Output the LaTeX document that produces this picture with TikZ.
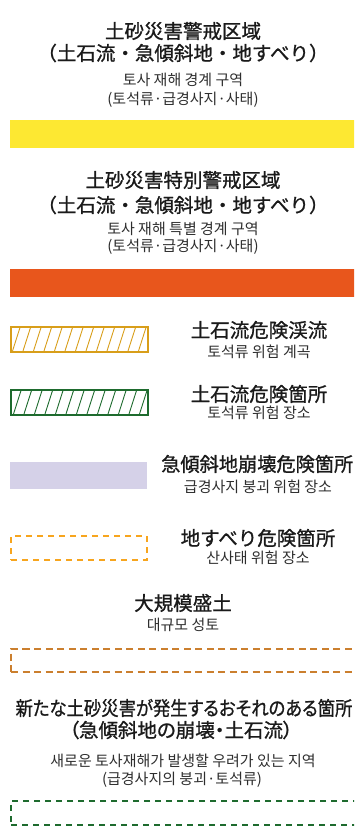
\documentclass[tikz,border=0pt]{standalone}
\usepackage{fontspec}
\usepackage{graphicx}
\newfontfamily\jp[FakeBold=1]{Noto Sans CJK JP}
\newfontfamily\jpp[FakeBold=1,RawFeature=+palt]{Noto Sans CJK JP}
\newfontfamily\kr{Noto Sans CJK KR}
\definecolor{barYellow}{HTML}{FDE832}
\definecolor{barOrange}{HTML}{E8561C}
\definecolor{hatchGold}{HTML}{D89E1A}
\definecolor{hatchGreen}{HTML}{1E6B2E}
\definecolor{slopePurple}{HTML}{D5D1E8}
\definecolor{slideOrange}{HTML}{F7A51E}
\definecolor{fillBrown}{HTML}{CB7F2E}
\definecolor{newGreen}{HTML}{1E6B2E}
\definecolor{jpText}{HTML}{1A1A1A}
\definecolor{krText}{HTML}{2E2E2E}
\begin{document}
\begin{tikzpicture}[x=1pt,y=-1pt,
  jt/.style={inner sep=0pt, font=\jp\fontsize{19.5}{22}\selectfont, text=jpText},
  kt/.style={inner sep=0pt, font=\kr\fontsize{15}{17}\selectfont, text=krText},
  legbox/.style={inner sep=0pt, anchor=north west, line width=2pt},
  hatchline/.style={line width=0.9pt},
  dashbox/.style={legbox, dash pattern=on 6pt off 5pt}]
\useasboundingbox (0,0) rectangle (354,840);
\clip (0,0) rectangle (354,840);

% Section 1
\node[jt] (t1a) at (183,31) {土砂災害警戒区域};
\node[jt] (t1b) at (183,53) {（土石流・急傾斜地・地すべり）};
\node[kt] (t1c) at (183,80) {토사 재해 경계 구역};
\node[kt] (t1d) at (183,100) {(토석류·급경사지·사태)};
\node[legbox, fill=barYellow, minimum width=350pt, minimum height=28pt] (bar1) at (9,119) {};

% Section 2
\node[jt] (t2a) at (183,180) {土砂災害特別警戒区域};
\node[jt] (t2b) at (183,205) {（土石流・急傾斜地・地すべり）};
\node[kt] (t2c) at (183,229) {토사 재해 특별 경계 구역};
\node[kt] (t2d) at (183,247) {(토석류·급경사지·사태)};
\node[legbox, fill=barOrange, minimum width=350pt, minimum height=28pt] (bar2) at (9,268) {};

% Section 3: hatched gold
\begin{scope}
  \clip (10,326) rectangle (147,351);
  \foreach \i in {0,...,14}
    \draw[hatchline, hatchGold] ({12.5+10.5*\i},351) -- ({20.5+10.5*\i},326);
\end{scope}
\node[legbox, draw=hatchGold, minimum width=137pt, minimum height=25pt] (b3) at (10,326) {};
\node[jt] (t3a) at (259,330) {土石流危険渓流};
\node[kt] (t3b) at (259,352) {토석류 위험 계곡};

% Section 4: hatched green
\begin{scope}
  \clip (10,389) rectangle (147,414);
  \foreach \i in {0,...,14}
    \draw[hatchline, hatchGreen] ({13.5+10.5*\i},414) -- ({21.5+10.5*\i},389);
\end{scope}
\node[legbox, draw=hatchGreen, minimum width=137pt, minimum height=25pt] (b4) at (10,389) {};
\node[jt] (t4a) at (259,394) {土石流危険箇所};
\node[kt] (t4b) at (259,413) {토석류 위험 장소};

% Section 5: purple
\node[legbox, fill=slopePurple, minimum width=137pt, minimum height=27pt] (b5) at (9,461) {};
\node[jt, anchor=west] (t5a) at (161,464) {\scalebox{0.985}[1]{急傾斜地崩壊危険箇所}};
\node[kt] (t5b) at (258,487) {급경사지 붕괴 위험 장소};

% Section 6: orange dashed
\node[dashbox, draw=slideOrange, minimum width=136pt, minimum height=24pt] (b6) at (10,535) {};
\node[jt] (t6a) at (258,538) {地すべり危険箇所};
\node[kt] (t6b) at (258,558) {산사태 위험 장소};

% Section 7: large fill
\node[jt] (t7a) at (183,603) {大規模盛土};
\node[kt] (t7b) at (183,625) {대규모 성토};
\node[dashbox, draw=fillBrown, dash pattern=on 7pt off 4.5pt, minimum width=360pt, minimum height=23pt] (b7) at (10,648) {};

% Section 8: new hazard
\node[jt, font=\jpp\fontsize{19.5}{22}\selectfont] (t8a) at (184,708) {\scalebox{0.89}[1]{新たな土砂災害が発生するおそれのある箇所}};
\node[jt, font=\jpp\fontsize{19.5}{22}\selectfont] (t8b) at (181,730) {（急傾斜地の崩壊・土石流）};
\node[kt] (t8c) at (183,761) {새로운 토사재해가 발생할 우려가 있는 지역};
\node[kt] (t8d) at (182,780) {(급경사지의 붕괴·토석류)};
\node[dashbox, draw=newGreen, minimum width=360pt, minimum height=24pt] (b8) at (10,800) {};
\end{tikzpicture}
\end{document}
